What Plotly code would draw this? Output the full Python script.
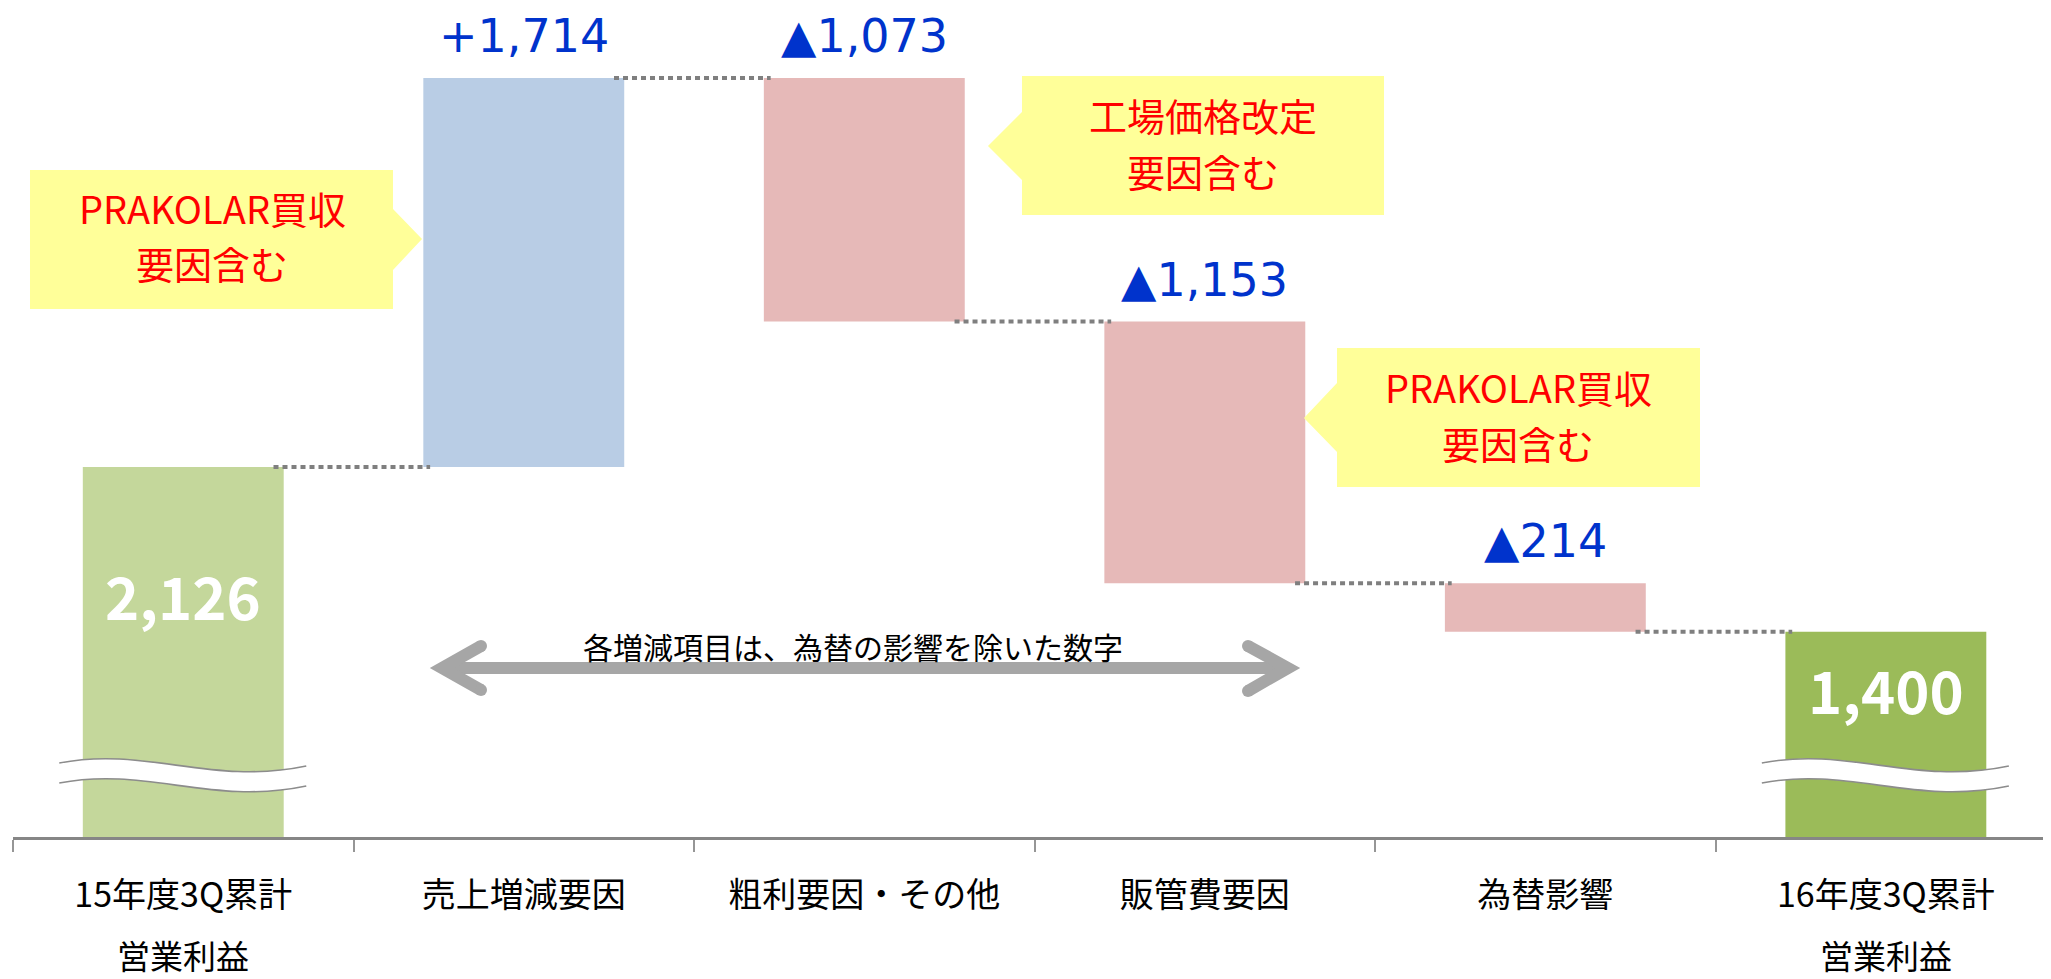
import plotly.graph_objects as go

# ---------------- data ----------------
categories = ["15年度3Q累計", "売上増減要因", "粗利要因・その他", "販管費要因", "為替影響", "16年度3Q累計"]
sublabels = ["営業利益", "", "", "", "", "営業利益"]
measures = ["absolute", "relative", "relative", "relative", "relative", "total"]
values = [2126, 1714, -1073, -1153, -214, 1400]
value_labels = ["2,126", "+1,714", "▲1,073", "▲1,153", "▲214", "1,400"]
bar_colors = ["#C4D79B", "#B9CDE5", "#E6B9B8", "#E6B9B8", "#E6B9B8", "#9BBB59"]
callout_lines = [["PRAKOLAR買収", "要因含む"], ["工場価格改定", "要因含む"], ["PRAKOLAR買収", "要因含む"]]
note_text = "各増減項目は、為替の影響を除いた数字"

FONT = "Noto Sans CJK JP"
NUMFONT = "DejaVu Sans"

# page has an 8px body margin; figure sized to fit the window
OFF = 8
W, H = 2051 - OFF, 979 - OFF
PAGE_LEFT, PAGE_TOP, PAGE_AXIS = 13, OFF, 837
ML, MR, MT = PAGE_LEFT - OFF, 0, PAGE_TOP - OFF
PW = W - ML - MR
PH = PAGE_AXIS - PAGE_TOP
MB = H - MT - PH


def xp(X):  # page px -> paper
    return (X - PAGE_LEFT) / PW


def yp(Y):  # page px -> paper
    return (PAGE_AXIS - Y) / PH


# ---------------- waterfall geometry from data ----------------
bases, heights, levels = [], [], []
running = 0
for m, v in zip(measures, values):
    if m in ("absolute", "total"):
        bases.append(0)
        heights.append(v)
        running = v
    else:
        bases.append(running)
        heights.append(v)
        running += v
    levels.append(running)
tops = [max(b, b + h) for b, h in zip(bases, heights)]

fig = go.Figure()
fig.add_trace(go.Bar(
    x=categories, y=heights, base=bases,
    marker=dict(color=bar_colors, line=dict(width=0)),
    hoverinfo="skip", showlegend=False,
))

XR = [-0.5, 5.485]
CATW = PW / (XR[1] - XR[0])

shapes = []
# connectors (dotted)
for i in range(len(categories) - 1):
    shapes.append(dict(
        type="line", xref="x", yref="y",
        x0=i + 0.265, x1=i + 1 - 0.275, y0=levels[i], y1=levels[i],
        line=dict(color="#7F7F7F", width=4, dash="5px,4px"), layer="above",
    ))


def P(p):
    return f"{xp(p[0]):.5f},{yp(p[1]):.5f}"


def wave(x0, y0):
    return [(x0, y0), (x0 + 87, y0 - 17), (x0 + 152, y0 + 23), (x0 + 247, y0 + 3)]


# axis-break marks on the absolute / total bars
for i, m in enumerate(measures):
    if m in ("absolute", "total"):
        cx = PAGE_LEFT + (i + 0.5) * CATW
        start = cx - 124
        top = wave(start, 763)
        bot = wave(start, 783)
        band = (f"M{P(top[0])} C{P(top[1])} {P(top[2])} {P(top[3])} "
                f"L{P(bot[3])} C{P(bot[2])} {P(bot[1])} {P(bot[0])} Z")
        shapes.append(dict(type="path", xref="paper", yref="paper", path=band,
                           fillcolor="white", line=dict(width=0), layer="above"))
        for wv in (top, bot):
            pth = f"M{P(wv[0])} C{P(wv[1])} {P(wv[2])} {P(wv[3])}"
            shapes.append(dict(type="path", xref="paper", yref="paper", path=pth,
                               fillcolor="rgba(0,0,0,0)",
                               line=dict(color="#8C8C8C", width=1.6), layer="above"))


def poly(pts):
    return "M" + " L".join(P(p) for p in pts) + " Z"


# callout boxes
callouts = [
    [(30, 170), (393, 170), (393, 209), (422, 239), (393, 270), (393, 309), (30, 309)],
    [(1022, 76), (1384, 76), (1384, 215), (1022, 215), (1022, 180), (988, 146), (1022, 112)],
    [(1337, 348), (1700, 348), (1700, 487), (1337, 487), (1337, 452), (1304, 418), (1337, 383)],
]
for pts in callouts:
    shapes.append(dict(type="path", xref="paper", yref="paper", path=poly(pts),
                       fillcolor="#FFFF99", line=dict(width=0), layer="above"))

# double-headed arrow
GRAY = "#A6A6A6"
shapes.append(dict(type="line", xref="paper", yref="paper",
                   x0=xp(442), x1=xp(1289), y0=yp(668), y1=yp(668),
                   line=dict(color=GRAY, width=12), layer="above"))
for arm in ([(481, 646), (442, 668), (481, 690)], [(1248, 646), (1288, 668), (1248, 691)]):
    pth = "M" + " L".join(P(p) for p in arm)
    shapes.append(dict(type="path", xref="paper", yref="paper", path=pth,
                       fillcolor="rgba(0,0,0,0)", line=dict(color=GRAY, width=12), layer="above"))
    for (ex, ey) in (arm[0], arm[2]):
        shapes.append(dict(type="circle", xref="paper", yref="paper",
                           x0=xp(ex - 6), x1=xp(ex + 6), y0=yp(ey - 6), y1=yp(ey + 6),
                           fillcolor=GRAY, line=dict(width=0), layer="above"))

annotations = []
inside_shift = {0: -128, 5: -57}
for i, (m, lab) in enumerate(zip(measures, value_labels)):
    if m == "relative":
        annotations.append(dict(x=i, y=tops[i], xref="x", yref="y", text=lab,
                                showarrow=False, yshift=42, yanchor="middle",
                                font=dict(family=NUMFONT, size=46, color="#0033CC")))
    else:
        annotations.append(dict(x=i, y=tops[i], xref="x", yref="y", text=f"<b>{lab}</b>",
                                showarrow=False, yshift=inside_shift.get(i, -90), yanchor="middle",
                                font=dict(family=FONT, size=58, color="white")))

for i, s in enumerate(sublabels):
    if s:
        annotations.append(dict(x=i, y=yp(955), xref="x", yref="paper", text=s,
                                showarrow=False, yanchor="middle",
                                font=dict(family=FONT, size=33, color="black")))

callout_pos = [(212, (207, 263)), (1203, (114, 170)), (1518, (386, 442))]
for (cx, ys), lines in zip(callout_pos, callout_lines):
    for cy, t in zip(ys, lines):
        annotations.append(dict(x=xp(cx), y=yp(cy), xref="paper", yref="paper", text=t,
                                showarrow=False, xanchor="center", yanchor="middle",
                                font=dict(family=FONT, size=38, color="#FF0000")))

annotations.append(dict(x=xp(853), y=yp(646), xref="paper", yref="paper", text=note_text,
                        showarrow=False, xanchor="center", yanchor="middle",
                        font=dict(family=FONT, size=30, color="black")))

# y-scale: 0.22695 px per unit, axis line at 495.7
SCALE = 0.22695
Y0 = 495.7
fig.update_layout(
    width=W, height=H,
    margin=dict(l=ML, r=MR, t=MT, b=MB, pad=0),
    paper_bgcolor="white", plot_bgcolor="white",
    bargap=0.41,
    shapes=shapes, annotations=annotations,
    font=dict(family=FONT),
    xaxis=dict(
        type="category", range=XR,
        showline=True, linecolor="#868686", linewidth=3,
        ticks="outside", tickson="boundaries", ticklen=12, tickwidth=1.5, tickcolor="#969696",
        tickfont=dict(family=FONT, size=34, color="black"),
        ticklabelstandoff=26,
        showgrid=False, zeroline=False, fixedrange=True,
    ),
    yaxis=dict(visible=False, range=[Y0, Y0 + PH / SCALE], showgrid=False,
               zeroline=False, fixedrange=True),
)

fig.write_html("out.html")
